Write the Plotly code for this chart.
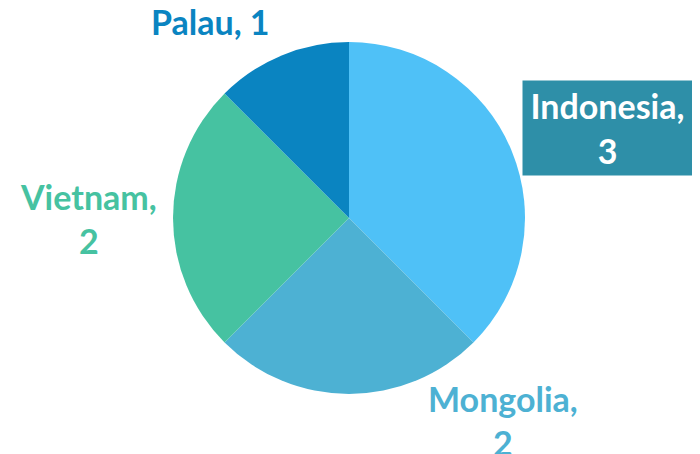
import plotly.graph_objects as go

countries = ["Indonesia", "Mongolia", "Vietnam", "Palau"]
values = [3, 2, 2, 1]
colors = ["#4FC1F7", "#4DB1D3", "#46C2A1", "#0A84C1"]

# page body has an 8px margin; figure sized so it fills the window
OFF = 8
W, H = 700 - OFF, 454 - OFF
cx, cy, r = 349 - OFF, 218 - OFF, 176

fig = go.Figure(go.Pie(
    labels=countries, values=values, sort=False, direction="clockwise",
    rotation=0, textinfo="none", hoverinfo="label+value",
    marker=dict(colors=colors, line=dict(width=0)),
    domain=dict(x=[(cx - r) / W, (cx + r) / W], y=[(H - cy - r) / H, (H - cy + r) / H]),
    showlegend=False,
))

font_family = "Lato"
fs = 34
label_pos = {
    "Indonesia": (607.5, 128),
    "Mongolia": (503, 420),
    "Vietnam": (88, 218),
    "Palau": (210, 22),
}
annotations = []
for name, v, c in zip(countries, values, colors):
    x, y = label_pos[name]
    x, y = x - OFF, y - OFF
    if name == "Palau":
        text = f"<b>{name}, {v}</b>"
    else:
        text = f"<b>{name},</b><br><b>{v}</b>"
    a = dict(x=x / W, y=1 - y / H, xref="paper", yref="paper", text=text,
             showarrow=False, xanchor="center", yanchor="middle",
             font=dict(family=font_family, size=fs, color=c), align="center")
    if name == "Indonesia":
        a.update(font=dict(family=font_family, size=fs, color="white"),
                 bgcolor="#2E8FA8", borderpad=4, width=161, height=86)
    annotations.append(a)

fig.update_layout(width=W, height=H, margin=dict(l=0, r=0, t=0, b=0),
                  paper_bgcolor="white", plot_bgcolor="white",
                  annotations=annotations)
fig.write_html("out.html")
